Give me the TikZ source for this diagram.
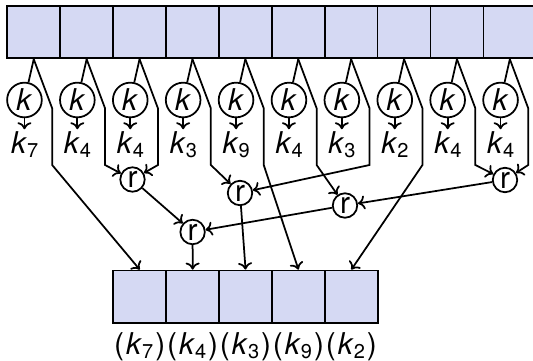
\documentclass[tikz,border=0pt]{standalone}
\usepackage{fontspec}
\setmainfont{TeX Gyre Heros}
\usepackage{tikz}
\usepackage{xcolor}
\usetikzlibrary{arrows.meta}
\definecolor{cell-fill}{RGB}{213,217,243}
\tikzset{
    cell-box/.style = {draw, fill=cell-fill, rectangle, minimum width=21.16pt, minimum height=20.9pt, inner sep=0pt},
    key-circle/.style = {draw, fill=white, circle, inner sep=1.1pt},
    reduce-circle/.style = {draw, fill=white, circle, inner sep=0.8pt},
    key-label/.style = {anchor=base, inner sep=0.4pt},
    flow/.style = {-{To[length=2.8pt, width=5.6pt]}},
}

\begin{document}
\begin{tikzpicture}[x=0.4pt, y=-0.4pt, line width=0.7pt, font=\fontsize{12}{14.4}\selectfont]
\useasboundingbox (0,0) rectangle (533,360);
\clip (0,0) rectangle (533,360);
\foreach \i/\k in {1/7,2/4,3/4,4/3,5/9,6/4,7/3,8/2,9/4,10/4}{
    \pgfmathsetmacro{\cx}{7.3+52.9*(\i-0.5)}
    \node[cell-box] (top-\i) at (\cx, 32.2) {};
    \node[key-circle] (key-\i) at (\cx-9.3, 100) {\textit{k}};
    \node[key-label] (lab-\i) at (\cx-8.5, 153) {\textit{k}\textsubscript{\k}};
    \coordinate (bend-\i) at (\cx+18.4, 108.3);
    \coordinate (drop-\i) at (\cx+18.4, 165);
    \draw (top-\i.south) -- (key-\i);
    \draw[flow] (key-\i) -- (key-\i |- lab-\i.north);
}
\foreach \i/\k in {1/7,2/4,3/3,4/9,5/2}{
    \pgfmathsetmacro{\cx}{113.3+52.9*(\i-0.5)}
    \node[cell-box] (bot-\i) at (\cx, 296.6) {};
    \node[key-label] (res-\i) at (\cx, 354) {(\kern0.8pt\textit{k}\textsubscript{\k}\kern0.3pt)};
}
\node[reduce-circle] (red-a) at (132.5, 179.5) {r};
\node[reduce-circle] (red-b) at (240, 193) {r};
\node[reduce-circle] (red-c) at (345, 205.5) {r};
\node[reduce-circle] (red-d) at (505, 180) {r};
\node[reduce-circle] (red-e) at (192.6, 232) {r};

\draw[flow] (top-1.south) -- (bend-1) -- (drop-1) -- (bot-1.north);
\draw[flow] (top-2.south) -- (bend-2) -- (drop-2) -- (red-a);
\draw[flow] (top-3.south) -- (bend-3) -- (drop-3) -- (red-a);
\draw[flow] (top-4.south) -- (bend-4) -- (drop-4) -- (red-b);
\draw[flow] (top-5.south) -- (bend-5) -- (drop-5) -- (bot-4.north);
\draw[flow] (top-6.south) -- (bend-6) -- (drop-6) -- (red-c);
\draw[flow] (top-7.south) -- (bend-7) -- (drop-7) -- (red-b);
\draw[flow] (top-8.south) -- (bend-8) -- (drop-8) -- (bot-5.north);
\draw[flow] (top-9.south) -- (bend-9) -- (drop-9) -- (red-d);
\draw[flow] (top-10.south) -- (bend-10) -- (drop-10) -- (red-d);
\draw[flow] (red-d) -- (red-c);
\draw[flow] (red-c) -- (red-e);
\draw[flow] (red-a) -- (red-e);
\draw[flow] (red-e) -- (bot-2.north);
\draw[flow] (red-b) -- (bot-3.north);
\end{tikzpicture}
\end{document}
